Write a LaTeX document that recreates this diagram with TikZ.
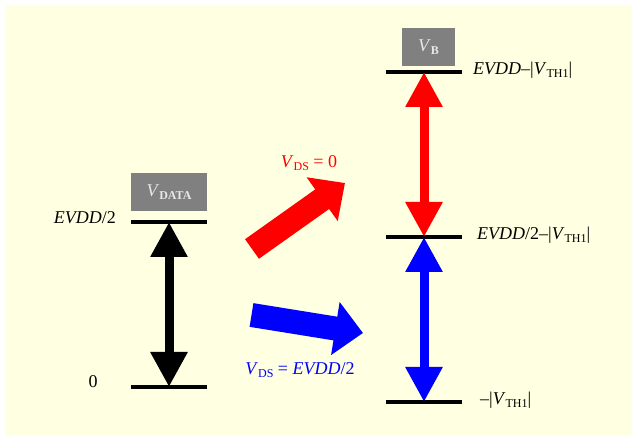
\documentclass[tikz,border=0pt]{standalone}
\usepackage{fontspec}
\setmainfont{Liberation Serif}
\usetikzlibrary{arrows.meta}
\definecolor{panel}{HTML}{FFFFE1}
\definecolor{boxgray}{HTML}{808080}
\definecolor{boxtext}{HTML}{E8E8E8}
\newcommand{\lsub}[1]{\raisebox{-0.35ex}{\fontsize{12}{12}\selectfont #1}}
\newcommand{\vth}{|\textit{V}\lsub{TH1}|}

\begin{document}
\begin{tikzpicture}[x=1pt,y=-1pt,
  level/.style={line width=4pt},
  valbox/.style={fill=boxgray,text=boxtext,minimum height=38pt,inner sep=0pt},
  lbl/.style={font=\fontsize{18}{20}\selectfont,inner sep=0pt},
  swing/.style={line width=9pt,{Triangle[length=35pt,width=35pt]}-{Triangle[length=35pt,width=35pt]}},
  jump/.style={line width=24pt,-{Triangle[length=28pt,width=52pt]}}]

  % Background panel
  \useasboundingbox (0,0) rectangle (632,435);
  \fill[panel] (6,5) rectangle (632,435);

  % Left column: data range
  \coordinate (dtop) at (169,222);
  \coordinate (dbot) at (169,387);
  \draw[level] (131,222) -- (207,222);
  \draw[level] (131,387) -- (207,387);
  \node[valbox,minimum width=76pt] (vdata) at (169,192.5)
    {\fontsize{18}{20}\selectfont\textit{V}\lsub{\textbf{DATA}}};
  \node[lbl,anchor=east] (lhalf) at (116,218) {\textit{EVDD}/2};
  \node[lbl] (lzero) at (93,382) {0};
  \draw[swing] (dtop) -- (dbot);

  % Right column: shifted range
  \coordinate (rtop) at (424,72);
  \coordinate (rmid) at (424,237);
  \coordinate (rbot) at (424,402);
  \draw[level] (386,72) -- (462,72);
  \draw[level] (386,237) -- (462,237);
  \draw[level] (386,402) -- (462,402);
  \node[valbox,minimum width=53pt] (vb) at (428.5,47)
    {\fontsize{18}{20}\selectfont\textit{V}\lsub{\textbf{B}}};
  \node[lbl,anchor=west] (ltop) at (473,70) {\textit{EVDD}--\vth};
  \node[lbl,anchor=west] (lmid) at (477,235) {\textit{EVDD}/2--\vth};
  \node[lbl,anchor=west] (lbot) at (480,400) {--\vth};
  \draw[swing,red] (rtop) -- (rmid);
  \draw[swing,blue] (rmid) -- (rbot);

  % Mapping arrows
  \coordinate (atail) at (252,249);
  \coordinate (atip) at (345,183);
  \coordinate (btail) at (251.5,315);
  \coordinate (btip) at (363,333);
  \draw[jump,red] (atail) -- (atip);
  \draw[jump,blue] (btail) -- (btip);
  \node[lbl,red] (lzerods) at (309,163) {\textit{V}\lsub{DS} = 0};
  \node[lbl,blue] (lhalfds) at (300,370) {\textit{V}\lsub{DS} = \textit{EVDD}/2};

\end{tikzpicture}
\end{document}
